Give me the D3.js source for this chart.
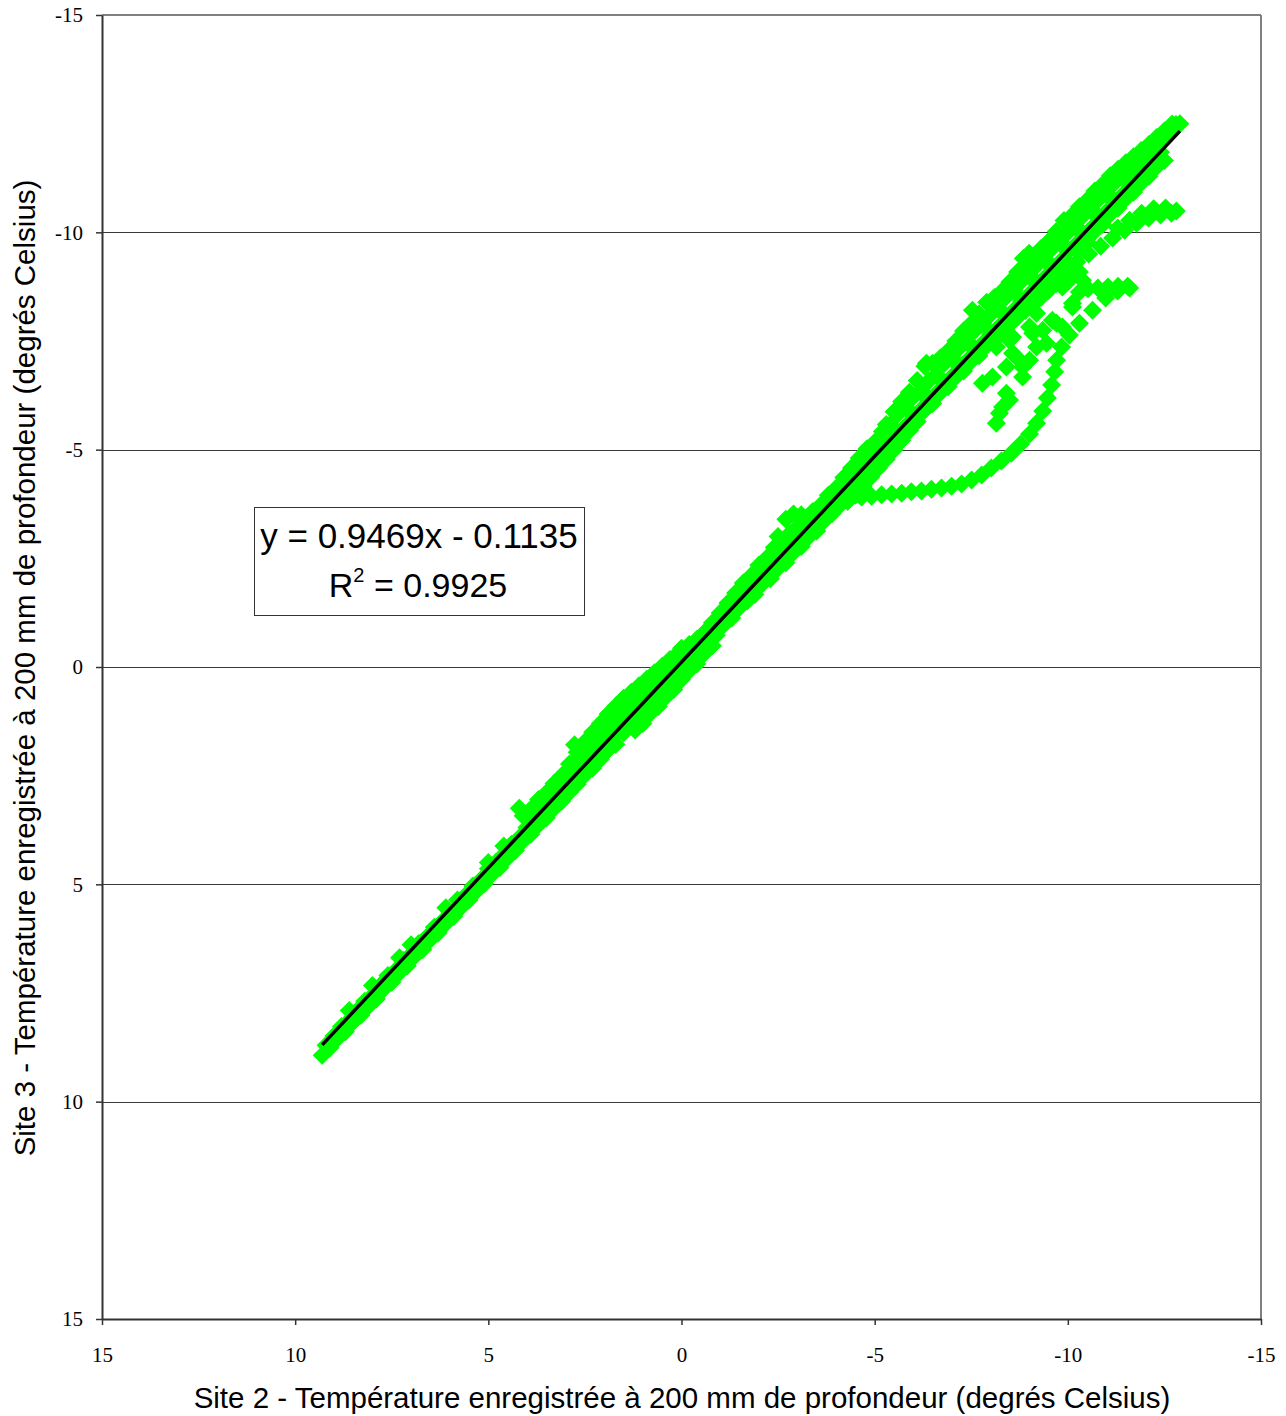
<!DOCTYPE html>
<html><head><meta charset="utf-8">
<script src="https://cdn.jsdelivr.net/npm/d3@7"></script>
<style>body{margin:0;background:#fff}</style>
</head><body><svg id="c" width="1286" height="1416"></svg>
<script>
// ---- axis ticks, regression, titles ----
const xTicks=[15,10,5,0,-5,-10,-15];
const yTicks=[-15,-10,-5,0,5,10,15];
const slope=0.9469, intercept=-0.1135, rSquared=0.9925;
const xTitle="Site 2 - Température enregistrée à 200 mm de profondeur (degrés Celsius)";
const yTitle="Site 3 - Température enregistrée à 200 mm de profondeur (degrés Celsius)";

// ---- data: [Site 2 temp, Site 3 temp] ----
const bandA=[[9.2,8.70],[9.0,8.49],[8.8,8.27],[8.6,8.13],[8.4,7.91],[8.2,7.69],[8.0,7.56],[7.8,7.33],[7.6,7.10],[7.4,6.98],[7.2,6.75],[7.0,6.61],[6.8,6.36],[6.6,6.22],[6.4,5.99],[6.2,5.86],[6.0,5.63],[5.8,5.36],[5.6,5.26],[5.4,5.04],[5.2,4.90],[5.0,4.64],[4.8,4.49],[4.6,4.32],[4.4,4.08],[4.2,3.93],[4.0,3.69],[3.8,3.58],[3.6,3.35],[3.4,3.11],[3.2,2.98],[3.0,2.77],[2.8,2.51],[2.6,2.40],[2.4,2.18],[2.2,1.92],[2.0,1.82],[1.8,1.65],[1.6,1.42],[1.4,1.29],[1.2,1.05],[1.0,0.90],[0.8,0.65],[0.6,0.51],[0.4,0.30],[0.2,0.16],[0.0,-0.09],[-0.2,-0.24],[-0.4,-0.47],[-0.6,-0.61],[-0.8,-0.84],[-1.0,-0.98],[-1.2,-1.23],[-1.4,-1.38],[-1.6,-1.60],[-1.8,-1.74],[-2.0,-1.99],[-2.2,-2.14],[-2.4,-2.36],[-2.6,-2.51],[-2.8,-2.75],[-3.0,-2.89],[-3.2,-3.11],[-3.4,-3.25],[-3.6,-3.50],[-3.8,-3.65],[-4.0,-3.87],[-4.2,-4.02],[-4.4,-4.26],[-4.6,-4.41],[-4.8,-4.63],[-5.0,-4.78],[-5.2,-5.02],[-5.4,-5.17],[-5.6,-5.39],[-5.8,-5.54],[-6.0,-5.78],[-6.2,-5.92],[-6.4,-6.14],[-6.6,-6.29],[-6.8,-6.53],[-7.0,-6.68],[-7.2,-6.90],[-7.4,-7.05],[-7.6,-7.29],[-7.8,-7.44],[-8.0,-7.66],[-8.2,-7.81],[-8.4,-8.05],[-8.6,-8.20],[-8.8,-8.42],[-9.0,-8.57],[-9.2,-8.81],[-9.4,-8.95],[-9.6,-9.17],[-9.8,-9.32],[-10.0,-9.56],[-10.2,-9.71],[-10.4,-9.93],[-10.6,-10.08],[-10.8,-10.32],[-11.0,-10.47],[-11.2,-10.69],[-11.4,-10.84],[-11.6,-11.08],[-11.8,-11.23],[-12.0,-11.45],[-12.2,-11.60],[-12.4,-11.84]];
const bandB=[[9.3,8.93],[9.1,8.76],[8.9,8.54],[8.7,8.39],[8.5,8.17],[8.3,8.01],[8.1,7.80],[7.9,7.64],[7.7,7.40],[7.5,7.25],[7.3,7.03],[7.1,6.88],[6.9,6.65],[6.7,6.50],[6.5,6.27],[6.3,6.12],[6.1,5.90],[5.9,5.74],[5.7,5.52],[5.5,5.36],[5.3,5.15],[5.1,4.98],[4.9,4.76],[4.7,4.61],[4.5,4.39],[4.3,4.22],[4.1,4.00],[3.9,3.85],[3.7,3.63],[3.5,3.47],[3.3,3.25],[3.1,3.09],[2.9,2.88],[2.7,2.70],[2.5,2.48],[2.3,2.33],[2.1,2.12],[1.9,1.91],[1.7,1.78],[1.5,1.51],[1.3,1.37],[1.1,1.23],[0.9,0.96],[0.7,0.82],[0.5,0.56],[0.3,0.43],[0.1,0.28],[-0.1,0.01],[-0.3,-0.15],[-0.5,-0.31],[-0.7,-0.58],[-0.9,-0.73],[-1.1,-0.98],[-1.3,-1.13],[-1.5,-1.37],[-1.7,-1.52],[-1.9,-1.67],[-2.1,-1.92],[-2.3,-2.03],[-2.5,-2.27],[-2.7,-2.40],[-2.9,-2.64],[-3.1,-2.77],[-3.3,-3.00],[-3.5,-3.13],[-3.7,-3.37],[-3.9,-3.53],[-4.1,-3.72],[-4.3,-3.81],[-4.5,-3.95],[-4.7,-4.16],[-4.9,-4.37],[-5.1,-4.58],[-5.3,-4.78],[-5.5,-5.00],[-5.7,-5.21],[-5.9,-5.44],[-6.1,-5.65],[-6.3,-5.91],[-6.5,-6.06],[-6.7,-6.31],[-6.9,-6.45],[-7.1,-6.68],[-7.3,-6.81],[-7.5,-7.04],[-7.7,-7.16],[-7.9,-7.39],[-8.1,-7.52],[-8.3,-7.75],[-8.5,-7.88],[-8.7,-8.05],[-8.9,-8.20],[-9.1,-8.35],[-9.3,-8.50],[-9.5,-8.66],[-9.7,-8.82],[-9.9,-8.99],[-10.1,-9.23],[-10.3,-9.52],[-10.5,-9.78],[-10.7,-10.03],[-10.9,-10.18],[-11.1,-10.42],[-11.3,-10.56],[-11.5,-10.78],[-11.7,-10.92],[-11.9,-11.14],[-12.1,-11.29],[-12.3,-11.51],[-12.5,-11.65]];
const bandR=[[3.0,2.43],[2.8,2.19],[2.6,2.07],[2.4,1.84],[2.2,1.61],[2.0,1.48],[1.8,1.26],[1.6,1.13],[1.4,0.90],[1.2,0.67],[1.0,0.54],[0.8,0.31],[0.6,0.15],[0.4,-0.07],[0.2,-0.22],[0.0,-0.43],[-0.2,-0.52],[-0.4,-0.64],[-0.6,-0.80],[-0.8,-1.02],[-1.0,-1.24],[-1.2,-1.47],[-1.4,-1.70],[-1.6,-1.93],[-1.8,-2.10],[-2.0,-2.34],[-2.2,-2.50],[-2.4,-2.75],[-2.6,-2.90],[-2.8,-3.07],[-3.0,-3.22],[-3.2,-3.36],[-3.4,-3.58],[-3.6,-3.72],[-3.8,-3.95],[-4.0,-4.11],[-4.2,-4.36],[-4.4,-4.58],[-4.6,-4.81],[-4.8,-5.02],[-5.0,-5.17],[-5.2,-5.42],[-5.4,-5.58],[-5.6,-5.82],[-5.8,-5.98],[-6.0,-6.22],[-6.2,-6.36],[-6.4,-6.58],[-6.6,-6.73],[-6.8,-6.98],[-7.0,-7.13],[-7.2,-7.35],[-7.4,-7.50],[-7.6,-7.75],[-7.8,-7.90],[-8.0,-8.11],[-8.2,-8.26],[-8.4,-8.51],[-8.6,-8.66],[-8.8,-8.88],[-9.0,-9.03],[-9.2,-9.25],[-9.4,-9.39],[-9.6,-9.64],[-9.8,-9.79],[-10.0,-10.00],[-10.2,-10.15],[-10.4,-10.39],[-10.6,-10.55],[-10.8,-10.76],[-11.0,-10.91],[-11.2,-11.13],[-11.4,-11.29],[-11.6,-11.46],[-11.8,-11.63],[-12.0,-11.78],[-12.2,-11.95],[-12.4,-12.11],[-12.6,-12.29],[-12.8,-12.48]];
const bandSLow=[[4.2,3.25],[4.1,3.42],[3.9,3.27],[3.7,3.05],[3.5,2.90],[3.3,2.68],[3.1,2.50],[2.9,2.23],[2.77,1.79],[2.7,1.96],[2.5,1.72],[2.3,1.50],[2.1,1.30],[1.9,1.08],[1.7,0.90],[1.5,0.72],[1.3,0.58],[1.1,0.43],[0.9,0.28],[0.7,0.13],[0.5,-0.02],[0.3,-0.17]];
const bandSHigh=[[-2.5,-3.00],[-2.7,-3.40],[-2.9,-3.52],[-3.1,-3.50],[-5.3,-5.58],[-5.5,-5.87],[-5.7,-6.11],[-5.9,-6.32],[-6.1,-6.59],[-6.3,-6.92],[-6.34,-6.99],[-6.5,-6.99],[-6.7,-7.11],[-6.9,-7.27],[-7.1,-7.50],[-7.3,-7.73],[-7.5,-7.90],[-7.53,-8.21],[-7.7,-8.12],[-7.9,-8.39],[-8.1,-8.50],[-8.3,-8.65],[-8.5,-8.86],[-8.7,-9.09],[-8.85,-9.40],[-8.9,-9.24],[-9.0,-9.52],[-9.1,-9.39],[-9.3,-9.62],[-9.5,-9.79],[-9.7,-10.02],[-9.9,-10.27],[-10.1,-10.38],[-10.3,-10.59],[-10.5,-10.74],[-10.7,-10.95],[-10.9,-11.10],[-11.1,-11.30],[-11.3,-11.45],[-11.5,-11.60],[-11.7,-11.74],[-11.9,-11.88],[-12.1,-12.02],[-12.3,-12.18],[-12.5,-12.33],[-12.7,-12.49],[-12.9,-12.50]];
const bandP2=[[1.2,1.45],[1.0,1.30],[0.8,1.06],[0.6,0.91],[0.4,0.68],[0.2,0.52],[0.0,0.29],[-0.2,0.08],[-0.4,-0.07],[-0.6,-0.32],[-0.8,-0.49]];
const bandC=[[8.6,7.90],[8.0,7.33],[7.3,6.69],[7.0,6.39],[6.1,5.54],[5.0,4.50],[4.6,4.12]];
const loopLower=[[-4.66,-3.91],[-4.92,-3.93],[-5.18,-3.96],[-5.44,-3.98],[-5.70,-4.00],[-5.95,-4.03],[-6.21,-4.05],[-6.47,-4.09],[-6.73,-4.12],[-6.99,-4.16],[-7.25,-4.21],[-7.51,-4.30],[-7.77,-4.42],[-8.02,-4.58],[-8.28,-4.74],[-8.54,-4.92],[-8.78,-5.13],[-9.01,-5.36],[-9.19,-5.61],[-9.35,-5.89],[-9.47,-6.19],[-9.58,-6.49],[-9.66,-6.79],[-9.71,-7.06],[-9.84,-7.36],[-10.04,-7.64],[-10.30,-7.91],[-10.64,-8.21],[-10.98,-8.49],[-11.29,-8.65],[-11.60,-8.72]];
const arm2Top=[[-11.55,-8.76],[-11.30,-8.76],[-11.04,-8.74],[-10.78,-8.72],[-10.52,-8.70],[-10.30,-8.63]];
const arm1=[[-10.23,-9.32],[-10.54,-9.50],[-10.85,-9.68],[-11.16,-9.87],[-11.47,-10.05],[-11.78,-10.21],[-12.09,-10.33],[-12.40,-10.40],[-12.68,-10.44],[-12.81,-10.49],[-11.29,-10.10],[-11.60,-10.28],[-11.91,-10.44],[-12.22,-10.54],[-12.53,-10.56]];
const scatter=[[-10.04,-8.90],[-10.12,-8.37],[-9.71,-7.91],[-9.19,-8.14],[-9.01,-7.82],[-8.57,-7.59],[-8.15,-7.36],[-8.57,-7.22],[-9.01,-7.06],[-8.83,-6.67],[-8.41,-6.30],[-8.31,-5.98],[-8.15,-5.61],[-7.79,-6.53],[-8.05,-6.67],[-9.35,-7.75],[-9.60,-7.98],[-9.45,-7.45],[-9.19,-7.36],[-10.38,-8.90],[-9.71,-9.20],[-9.86,-8.74],[-10.12,-8.28],[-9.86,-7.82],[-9.09,-7.68],[-8.67,-7.13],[-8.49,-7.52],[-8.83,-6.90],[-8.41,-6.90],[-8.49,-6.14],[-8.23,-5.84],[-10.04,-9.25],[-10.30,-9.09],[-9.91,-9.02]];

const allPoints=[].concat(bandA,bandB,bandR,bandSLow,bandSHigh,bandP2,bandC,loopLower,arm2Top,arm1,scatter);

// ---- chart ----
const svg=d3.select("#c");
const L=102,R=1261,T=15,B=1319;
const x=d3.scaleLinear().domain([15,-15]).range([L,R]);
const y=d3.scaleLinear().domain([-15,15]).range([T,B]);
const serif="'Liberation Serif','Times New Roman',serif";
const sans="'Liberation Sans',Arial,sans-serif";

svg.append("rect").attr("width",1286).attr("height",1416).attr("fill","#fff");

// gridlines
svg.append("g").selectAll("line").data(yTicks.filter(d=>d!==-15&&d!==15)).join("line")
  .attr("x1",L).attr("x2",R).attr("y1",d=>Math.round(y(d))+0.5).attr("y2",d=>Math.round(y(d))+0.5)
  .attr("stroke","#3a3a3a").attr("stroke-width",1);

// plot border (top/right grey)
svg.append("line").attr("x1",L).attr("x2",R).attr("y1",T).attr("y2",T).attr("stroke","#808080").attr("stroke-width",2);
svg.append("line").attr("x1",R).attr("x2",R).attr("y1",T).attr("y2",B).attr("stroke","#808080").attr("stroke-width",2);

// markers
const diamond="M0,-9.5L9.5,0L0,9.5L-9.5,0Z";
svg.append("g").selectAll("path").data(allPoints).join("path")
  .attr("d",diamond).attr("transform",d=>`translate(${x(d[0])},${y(d[1])})`)
  .attr("fill","#00ff00");

// trendline
const xr=d3.extent(allPoints,d=>d[0]);
svg.append("line")
  .attr("x1",x(xr[1])).attr("y1",y(slope*xr[1]+intercept))
  .attr("x2",x(xr[0])).attr("y2",y(slope*xr[0]+intercept))
  .attr("stroke","#000").attr("stroke-width",3.5);

// axes
const ay=svg.append("g").attr("transform",`translate(${L},0)`)
  .call(d3.axisLeft(y).tickValues(yTicks).tickSize(6).tickSizeOuter(0).tickPadding(13).tickFormat(d=>String(d)));
const ax=svg.append("g").attr("transform",`translate(0,${B})`)
  .call(d3.axisBottom(x).tickValues(xTicks).tickSize(6).tickSizeOuter(0).tickPadding(22).tickFormat(d=>String(d)));
[ay,ax].forEach(g=>{
  g.select(".domain").attr("stroke","#333").attr("stroke-width",2);
  g.selectAll(".tick line").attr("stroke","#333").attr("stroke-width",1.5);
  g.selectAll(".tick text").attr("fill","#000").style("font-family",serif).style("font-size","21px");
});

// titles
svg.append("text").attr("x",682).attr("y",1408).attr("text-anchor","middle")
  .style("font-family",sans).style("font-size","29.5px").attr("fill","#000").text(xTitle);
svg.append("text").attr("transform","translate(35,668) rotate(-90)").attr("text-anchor","middle")
  .style("font-family",sans).style("font-size","29.5px").attr("fill","#000").text(yTitle);

// equation box
svg.append("rect").attr("x",254.5).attr("y",507.5).attr("width",330).attr("height",108)
  .attr("fill","#fff").attr("stroke","#333").attr("stroke-width",1);
svg.append("text").attr("x",419).attr("y",548).attr("text-anchor","middle")
  .style("font-family",sans).style("font-size","35px").attr("fill","#000")
  .text(`y = ${slope}x - ${Math.abs(intercept)}`);
const t2=svg.append("text").attr("x",418).attr("y",597).attr("text-anchor","middle")
  .style("font-family",sans).style("font-size","34px").attr("fill","#000");
t2.append("tspan").text("R");
t2.append("tspan").attr("dy",-15).style("font-size","20px").text("2");
t2.append("tspan").attr("dy",15).text(` = ${rSquared}`);
</script>
</body></html>
